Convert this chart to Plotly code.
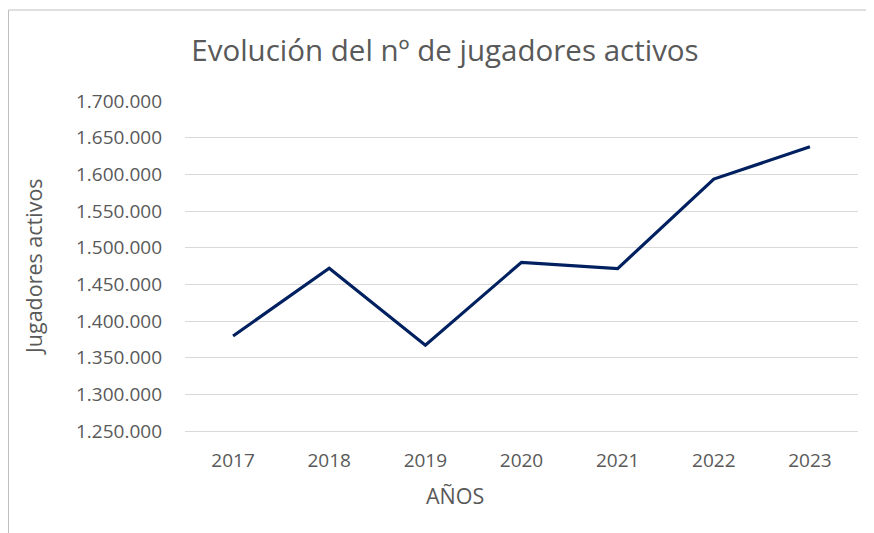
import plotly.graph_objects as go

# values
years = ["2017", "2018", "2019", "2020", "2021", "2022", "2023"]
players = [1379500, 1472000, 1367000, 1480000, 1471500, 1593500, 1637500]
y_ticks = [1250000 + 50000 * i for i in range(10)]

# the page body adds an 8px margin, so the figure starts at (8, 8)
OFF = 8
W, H = 874 - OFF, 533 - OFF
L, R, T, B = 185 - OFF, 16, 101 - OFF, 533 - 431
pw, ph = W - L - R, H - T - B


def px(x):
    return (x - OFF - L) / pw


def py(y):
    return (H - B - (y - OFF)) / ph


grey = "#595959"
font = "Open Sans"

fig = go.Figure()
fig.add_trace(go.Scatter(
    x=years, y=players, mode="lines",
    line=dict(color="#002060", width=3.2),
    hoverinfo="x+y",
))

fig.update_layout(
    width=W, height=H,
    margin=dict(l=L, r=R, t=T, b=B),
    paper_bgcolor="white", plot_bgcolor="white",
    separators=",.",
    showlegend=False,
    font=dict(family=font, color=grey, size=19),
    title=dict(
        text="Evolución del nº de jugadores activos",
        x=(445 - OFF) / W, xanchor="center", xref="container",
        y=1 - (51 - OFF) / H, yanchor="middle", yref="container",
        font=dict(family=font, size=29.5, color=grey),
    ),
    xaxis=dict(
        type="category", range=[-0.5, 6.5],
        showgrid=False, showline=True, linecolor="#d9d9d9", linewidth=1,
        ticks="", ticklabelstandoff=12,
        tickfont=dict(family=font, size=19, color=grey),
    ),
    yaxis=dict(
        range=[1250000, 1700000], tickvals=y_ticks,
        tickformat=",.0f",
        showgrid=True, gridcolor="#d9d9d9", gridwidth=1,
        zeroline=False, showline=False,
        ticks="", ticklabelstandoff=22,
        tickfont=dict(family=font, size=19, color=grey),
    ),
    annotations=[
        dict(text="AÑOS", x=px(455), y=py(495), xref="paper", yref="paper",
             showarrow=False, xanchor="center", yanchor="middle",
             font=dict(family=font, size=21.5, color=grey)),
        dict(text="Jugadores activos", x=px(33), y=py(267), xref="paper", yref="paper",
             showarrow=False, xanchor="center", yanchor="middle", textangle=-90,
             font=dict(family=font, size=21.5, color=grey)),
    ],
    shapes=[
        # chart frame (left and top edges)
        dict(type="line", xref="paper", yref="paper",
             x0=px(8.5), x1=px(8.5), y0=py(10), y1=py(533),
             line=dict(color="#bfbfbf", width=1)),
        dict(type="line", xref="paper", yref="paper",
             x0=px(8.5), x1=px(873), y0=py(10), y1=py(10),
             line=dict(color="#bfbfbf", width=1)),
    ],
)

fig.write_html("out.html")
